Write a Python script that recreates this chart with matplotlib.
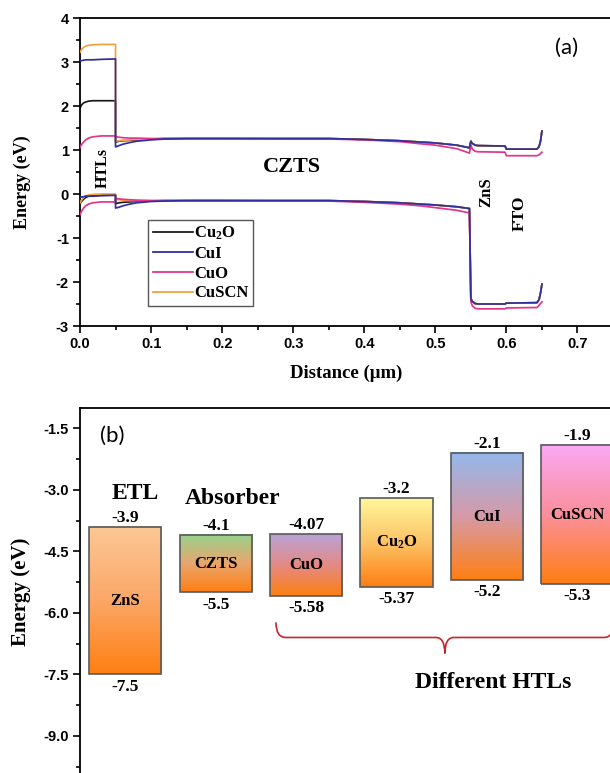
import numpy as np
import matplotlib
matplotlib.use('Agg')
import matplotlib.pyplot as plt
from matplotlib.colors import LinearSegmentedColormap
from matplotlib.patches import PathPatch
from matplotlib.path import Path
from matplotlib.ticker import MultipleLocator, FormatStrFormatter

plt.rcParams['mathtext.fontset'] = 'custom'
plt.rcParams['mathtext.rm'] = 'Liberation Serif:bold'
plt.rcParams['mathtext.it'] = 'Liberation Serif:bold:italic'
plt.rcParams['mathtext.bf'] = 'Liberation Serif:bold'
plt.rcParams['axes.unicode_minus'] = False

SERIF = 'Liberation Serif'
SANS = 'Liberation Sans'

# ---------------- (a) band diagram ----------------
htl_names = ['Cu$_2$O', 'CuI', 'CuO', 'CuSCN']
htl_colors = ['#1c1c1c', '#2f2fa3', '#e2358c', '#f2a240']
htl_zorder = [2, 5, 4, 3]

# HTL layer + start of CZTS (x in um)
x_left = [0, 0.002, 0.005, 0.008, 0.012, 0.018, 0.03, 0.05,
          0.05, 0.055, 0.06, 0.07, 0.08, 0.1, 0.12, 0.15]
ec_left = {
    'Cu$_2$O': [1.95, 2.02, 2.07, 2.09, 2.11, 2.12, 2.12, 2.12,
                1.18, 1.2, 1.21, 1.22, 1.23, 1.25, 1.26, 1.26],
    'CuI':     [3.02, 3.03, 3.04, 3.05, 3.05, 3.05, 3.06, 3.07,
                1.07, 1.1, 1.13, 1.17, 1.2, 1.23, 1.25, 1.26],
    'CuO':     [1.06, 1.12, 1.18, 1.23, 1.27, 1.3, 1.32, 1.32,
                1.3, 1.29, 1.28, 1.27, 1.27, 1.26, 1.26, 1.26],
    'CuSCN':   [3.22, 3.28, 3.33, 3.36, 3.38, 3.39, 3.4, 3.4,
                1.2, 1.21, 1.22, 1.23, 1.24, 1.25, 1.26, 1.26],
}
ev_left = {
    'Cu$_2$O': [-0.22, -0.17, -0.12, -0.08, -0.05, -0.03, -0.02, -0.02,
                -0.22, -0.2, -0.19, -0.18, -0.17, -0.16, -0.15, -0.15],
    'CuI':     [-0.08, -0.07, -0.06, -0.05, -0.05, -0.05, -0.04, -0.03,
                -0.32, -0.3, -0.27, -0.23, -0.2, -0.17, -0.16, -0.15],
    'CuO':     [-0.47, -0.4, -0.32, -0.27, -0.23, -0.2, -0.18, -0.18,
                -0.1, -0.11, -0.12, -0.13, -0.14, -0.15, -0.15, -0.15],
    'CuSCN':   [-0.2, -0.14, -0.08, -0.04, -0.02, -0.01, 0.0, 0.0,
                -0.12, -0.13, -0.14, -0.15, -0.15, -0.15, -0.15, -0.15],
}

# rest of CZTS, ZnS and FTO
x_tail = [0.2, 0.3, 0.35, 0.4, 0.45, 0.48, 0.5, 0.53, 0.548, 0.55,
          0.552, 0.556, 0.56, 0.598, 0.6, 0.643, 0.646, 0.648, 0.65]
ec_tail = [1.26, 1.26, 1.26, 1.24, 1.21, 1.18, 1.16, 1.11, 1.05, 1.2,
           1.15, 1.11, 1.1, 1.09, 1.02, 1.02, 1.08, 1.2, 1.43]
ec_tail_cuo = [1.26, 1.25, 1.25, 1.23, 1.19, 1.14, 1.11, 1.03, 0.93, 1.12,
               1.02, 0.97, 0.96, 0.95, 0.87, 0.87, 0.89, 0.92, 0.95]
ev_tail = [-0.15, -0.15, -0.15, -0.17, -0.2, -0.23, -0.25, -0.29, -0.33, -2.38,
           -2.44, -2.49, -2.5, -2.5, -2.48, -2.47, -2.4, -2.25, -2.05]
ev_tail_cuo = [-0.15, -0.16, -0.16, -0.19, -0.23, -0.27, -0.31, -0.37, -0.43, -2.45,
               -2.54, -2.6, -2.61, -2.61, -2.59, -2.58, -2.53, -2.49, -2.45]

# ---------------- (b) energy levels ----------------
layers = ['ZnS', 'CZTS', 'CuO', 'Cu$_2$O', 'CuI', 'CuSCN']
cb_levels = [-3.9, -4.1, -4.07, -3.2, -2.1, -1.9]
vb_levels = [-7.5, -5.5, -5.58, -5.37, -5.2, -5.3]
top_colors = ['#fcc897', '#96d38c', '#b9a3d8', '#fff79c', '#93b8ec', '#f9a9f4']
mid_colors = ['#fba767', '#e9a66e', '#e48a84', '#fcc366', '#d69aa8', '#fb8f9c']
bottom_color = '#ff7f12'

fig = plt.figure(figsize=(6.1, 7.73), dpi=100)

ax1 = fig.add_axes([80 / 610, 1 - 326 / 773, 533 / 610, 308 / 773])
x_full = x_left + x_tail
for name, col, z in zip(htl_names, htl_colors, htl_zorder):
    ec = ec_left[name] + (ec_tail_cuo if name == 'CuO' else ec_tail)
    ev = ev_left[name] + (ev_tail_cuo if name == 'CuO' else ev_tail)
    ax1.plot(x_full, ec, color=col, lw=1.25, zorder=z, label=name)
    ax1.plot(x_full, ev, color=col, lw=1.25, zorder=z)

ax1.set_xlim(0, 0.75)
ax1.set_ylim(-3, 4)
ax1.xaxis.set_major_locator(MultipleLocator(0.1))
ax1.xaxis.set_minor_locator(MultipleLocator(0.05))
ax1.yaxis.set_major_locator(MultipleLocator(1))
ax1.yaxis.set_minor_locator(MultipleLocator(0.5))
ax1.tick_params(which='both', direction='out', width=1.2, top=False, right=False)
ax1.tick_params(which='major', length=5, pad=3)
ax1.tick_params(which='minor', length=3)
for lab in ax1.get_xticklabels() + ax1.get_yticklabels():
    lab.set_fontfamily(SANS)
    lab.set_fontweight('bold')
    lab.set_fontsize(10.5)
for sp in ax1.spines.values():
    sp.set_linewidth(1.3)

ax1.set_xlabel('Distance (\u03bcm)', family=SERIF, weight='bold', fontsize=13.5)
ax1.xaxis.set_label_coords(0.5, -0.125)
ax1.set_ylabel('Energy (eV)', family=SERIF, weight='bold', fontsize=13)
ax1.yaxis.set_label_coords(-0.092, 0.468)

ax1.text(0.032, 0.59, 'HTLs', rotation=90, ha='center', va='center',
         family=SERIF, weight='bold', fontsize=11.5)
ax1.text(0.298, 0.61, 'CZTS', ha='center', va='center',
         family=SERIF, weight='bold', fontsize=16)
ax1.text(0.572, 0.05, 'ZnS', rotation=90, ha='center', va='center',
         family=SERIF, weight='bold', fontsize=12)
ax1.text(0.619, -0.43, 'FTO', rotation=90, ha='center', va='center',
         family=SERIF, weight='bold', fontsize=12.5)
ax1.text(0.685, 3.32, '(a)', ha='center', va='center', family='Lato', fontsize=16)

leg = ax1.legend(loc='upper left', bbox_to_anchor=(0.0957, -0.59),
                 bbox_transform=ax1.transData, borderaxespad=0,
                 prop={'family': SERIF, 'weight': 'bold', 'size': 12},
                 handlelength=2.4, handletextpad=0.05, labelspacing=0.22,
                 borderpad=0.3, fancybox=False, framealpha=1,
                 edgecolor='#555555')
leg.get_frame().set_linewidth(1.0)
for h in leg.get_lines():
    h.set_linewidth(1.3)

# energy level bars with vertical colour gradients
ax2 = fig.add_axes([80 / 610, 1 - 785 / 773, 579 / 610, 377 / 773])
pos = np.arange(len(layers))
width = 0.8
ramp = np.linspace(0, 1, 256).reshape(-1, 1)
for i in range(len(layers)):
    cmap = LinearSegmentedColormap.from_list(
        'g%d' % i, [bottom_color, mid_colors[i], top_colors[i]])
    ax2.imshow(ramp, cmap=cmap, origin='lower', aspect='auto', zorder=1,
               extent=(pos[i] - width / 2, pos[i] + width / 2,
                       vb_levels[i], cb_levels[i]))
heights = np.array(cb_levels) - np.array(vb_levels)
ax2.bar(pos, heights, bottom=vb_levels, width=width, fill=False,
        edgecolor='#5a5a5a', linewidth=1.2, zorder=3)

for i in range(len(layers)):
    ax2.annotate('%g' % cb_levels[i], (pos[i], cb_levels[i]),
                 xytext=(0, 3.5), textcoords='offset points',
                 ha='center', va='baseline', family=SERIF, weight='bold',
                 fontsize=12.5)
    ax2.annotate('%g' % vb_levels[i], (pos[i], vb_levels[i]),
                 xytext=(0, -3), textcoords='offset points',
                 ha='center', va='top', family=SERIF, weight='bold',
                 fontsize=12.5)
    ax2.text(pos[i], (cb_levels[i] + vb_levels[i]) / 2, layers[i],
             ha='center', va='center', family=SERIF, weight='bold',
             fontsize=12, zorder=4)

ax2.text(0.108, -3.09, 'ETL', ha='center', va='center',
         family=SERIF, weight='bold', fontsize=17)
ax2.text(1.19, -3.2, 'Absorber', ha='center', va='center',
         family=SERIF, weight='bold', fontsize=17)
ax2.text(4.07, -7.7, 'Different HTLs', ha='center', va='center',
         family=SERIF, weight='bold', fontsize=17)
ax2.text(-0.146, -1.67, '(b)', ha='center', va='center', family='Lato', fontsize=16)

# curly brace under the HTL bars
bx0, bxm, bx1 = 1.666, 3.533, 5.4
by_end, by_mid, by_tip = -6.23, -6.6, -6.99
verts = [(bx0, by_end), (bx0, by_mid), (bx0 + 0.11, by_mid),
         (bxm - 0.1, by_mid), (bxm, by_mid), (bxm, by_tip),
         (bxm, by_mid), (bxm + 0.1, by_mid),
         (bx1 - 0.11, by_mid), (bx1, by_mid), (bx1, by_end)]
codes = [Path.MOVETO, Path.CURVE3, Path.CURVE3,
         Path.LINETO, Path.CURVE3, Path.CURVE3,
         Path.CURVE3, Path.CURVE3,
         Path.LINETO, Path.CURVE3, Path.CURVE3]
ax2.add_patch(PathPatch(Path(verts, codes), fill=False, edgecolor='#c4262b',
                        lw=1.2, zorder=3))

ax2.set_xlim(-0.5, 5.9)
ax2.set_ylim(-10.2, -1.0)
ax2.yaxis.set_major_locator(MultipleLocator(1.5))
ax2.yaxis.set_minor_locator(MultipleLocator(0.75))
ax2.yaxis.set_major_formatter(FormatStrFormatter('%.1f'))
ax2.set_xticks([])
ax2.tick_params(which='both', direction='out', width=1.2, right=False)
ax2.tick_params(which='major', length=5, pad=3)
ax2.tick_params(which='minor', length=3)
for lab in ax2.get_yticklabels():
    lab.set_fontfamily(SANS)
    lab.set_fontweight('bold')
    lab.set_fontsize(10.5)
for sp in ax2.spines.values():
    sp.set_linewidth(1.3)
ax2.set_ylabel('Energy (eV)', family=SERIF, weight='bold', fontsize=15)
ax2.yaxis.set_label_coords(-0.0846, (785 - 592) / 377)

fig.savefig('out.png', dpi=100)
